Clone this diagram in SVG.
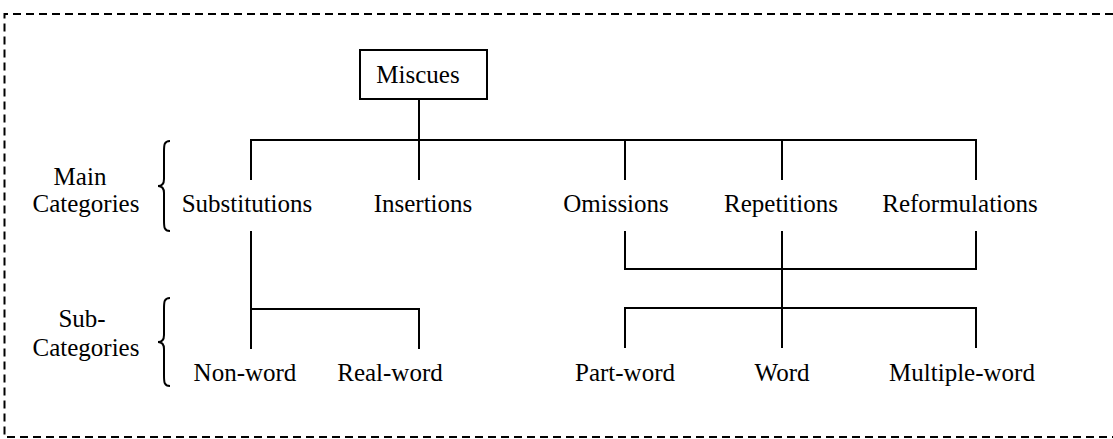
<svg xmlns="http://www.w3.org/2000/svg" width="1113" height="439" viewBox="0 0 1113 439">
<style>
.t{font-family:"Liberation Serif","Times New Roman",serif;font-size:25px;fill:#000;text-anchor:middle}
.ln{stroke:#000;stroke-width:2;fill:none}
.br{stroke:#000;stroke-width:2;fill:none}
</style>
<rect width="1113" height="439" fill="#fff"/>
<path d="M1113,14 H4.5 V437 H1113" fill="none" stroke="#000" stroke-width="2" stroke-dasharray="8 5"/>
<g id="labels">
<text class="t" x="80" y="185">Main</text>
<text class="t" x="86" y="212">Categories</text>
<path class="br" d="M170,141 C164,141 164,145 164,152 L164,179 C164,184 162,186 158,186 C162,186 164,188 164,193 L164,220 C164,227 164,231 170,231"/>
<text class="t" x="82" y="327">Sub-</text>
<text class="t" x="86" y="356">Categories</text>
<path class="br" d="M170,298 C164,298 164,302 164,309 L164,335 C164,340 162,342 158,342 C162,342 164,344 164,349 L164,375 C164,382 164,386 170,386"/>
</g>
<g id="miscues">
<rect x="360" y="50" width="127" height="49" fill="none" stroke="#000" stroke-width="2"/>
<text class="t" x="418" y="83">Miscues</text>
</g>
<g id="substitutions"><text class="t" x="247" y="212">Substitutions</text></g>
<g id="insertions"><text class="t" x="423" y="212">Insertions</text></g>
<g id="omissions"><text class="t" x="616" y="212">Omissions</text></g>
<g id="repetitions"><text class="t" x="781" y="212">Repetitions</text></g>
<g id="reformulations"><text class="t" x="960" y="212">Reformulations</text></g>
<g id="nonword"><text class="t" x="245" y="381">Non-word</text></g>
<g id="realword"><text class="t" x="390" y="381">Real-word</text></g>
<g id="partword"><text class="t" x="625" y="381">Part-word</text></g>
<g id="word"><text class="t" x="782" y="381">Word</text></g>
<g id="multipleword"><text class="t" x="962" y="381">Multiple-word</text></g>
<g id="connectors">
<path class="ln" d="M419,99 V140"/>
<path class="ln" d="M251,180 V140 H976 V180"/>
<path class="ln" d="M419,140 V180 M625,140 V180 M782,140 V180"/>
<path class="ln" d="M251,231 V349 M251,309 H419 V349"/>
<path class="ln" d="M625,231 V269 H976 V231"/>
<path class="ln" d="M782,231 V348"/>
<path class="ln" d="M625,348 V308 H976 V348"/>
</g>
</svg>
